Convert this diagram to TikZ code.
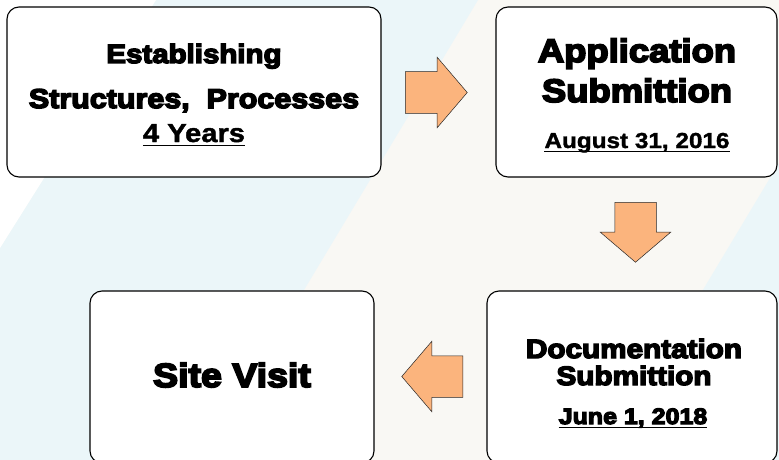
\documentclass[tikz,border=0pt]{standalone}
\usepackage{fontspec}
\usetikzlibrary{shapes.arrows}

\newfontfamily\heavyfont{Liberation Sans Bold}[FakeBold=5.5,FakeStretch=1.12]
\newfontfamily\datefont{Liberation Sans Bold}[FakeBold=1.5,FakeStretch=1.12]
\newcommand\dateline[1]{\setbox0\hbox{#1}\rlap{\copy0}\rule[-4pt]{\wd0}{1.4pt}}

\definecolor{bluebg}{HTML}{EBF6F9}
\definecolor{beigebg}{HTML}{F9F8F4}
\definecolor{arrowfill}{HTML}{FBB47D}

\begin{document}
\begin{tikzpicture}[x=1pt,y=-1pt]
		\tikzset{stage/.style = {draw, line width=1.1pt, fill=white, rounded corners=12pt, inner sep=0pt}}
		\tikzset{flow/.style  = {single arrow, draw=black!85, line width=0.5pt, fill=arrowfill, inner sep=20.5pt, anchor=tail,
		                         single arrow head extend=14.5pt, single arrow tip angle=99}}
		\tikzset{title/.style = {anchor=base, inner sep=0pt}}
		
		\useasboundingbox (0,0) rectangle (779,460);
		\clip (0,0) rectangle (779,460);
		
		% background bands
		\fill[beigebg] (0,0) rectangle (779,460);
		\fill[bluebg]  (156,0) -- (478,0) -- (202,460) -- (0,460) -- (0,248) -- cycle;
		\fill[white]   (0,0) -- (156,0) -- (0,248) -- cycle;
		\fill[bluebg]  (779,163) -- (779,460) -- (601,460) -- cycle;
		
		\node[stage, minimum width=374pt, minimum height=170pt] (establish) at (194,  92) {};
		\node[stage, minimum width=281pt, minimum height=170pt] (apply)     at (636.5,92) {};
		\node[stage, minimum width=290pt, minimum height=172pt] (document)  at (632, 377) {};
		\node[stage, minimum width=284pt, minimum height=172pt] (visit)     at (232, 377) {};
		
		\node[title, font=\heavyfont\fontsize{26.3}{30}\selectfont] (establish1) at (194,  63) {Establishing};
		\node[title, font=\heavyfont\fontsize{27.2}{30}\selectfont] (establish2) at (194, 108) {Structures,~~Processes};
		\node[title, font=\datefont\fontsize{26}{28}\selectfont]    (establish3) at (194, 142) {\dateline{4 Years}};
		
		\node[title, font=\heavyfont\fontsize{32.5}{36}\selectfont] (apply1)     at (637,  62) {Application};
		\node[title, font=\heavyfont\fontsize{32.5}{36}\selectfont] (apply2)     at (637, 102) {Submittion};
		\node[title, font=\datefont\fontsize{21.7}{25}\selectfont]  (apply3)     at (637, 148) {\dateline{August 31, 2016}};
		
		\node[title, font=\heavyfont\fontsize{26.5}{30}\selectfont] (document1)  at (634, 358) {Documentation};
		\node[title, font=\heavyfont\fontsize{26.5}{30}\selectfont] (document2)  at (634, 385) {Submittion};
		\node[title, font=\heavyfont\fontsize{22.3}{26}\selectfont] (document3)  at (633, 424) {\dateline{June 1, 2018}};
		
		\node[title, font=\heavyfont\fontsize{33.5}{36}\selectfont] (visit1)     at (232, 387) {Site Visit};
		
		\node[flow, minimum height=62pt]                          (step1) at (405,  92.5) {};
		\node[flow, minimum height=60pt, shape border rotate=270] (step2) at (635.5,202) {};
		\node[flow, minimum height=61pt, shape border rotate=180] (step3) at (463, 376.5) {};
		\end{tikzpicture}
\end{document}
